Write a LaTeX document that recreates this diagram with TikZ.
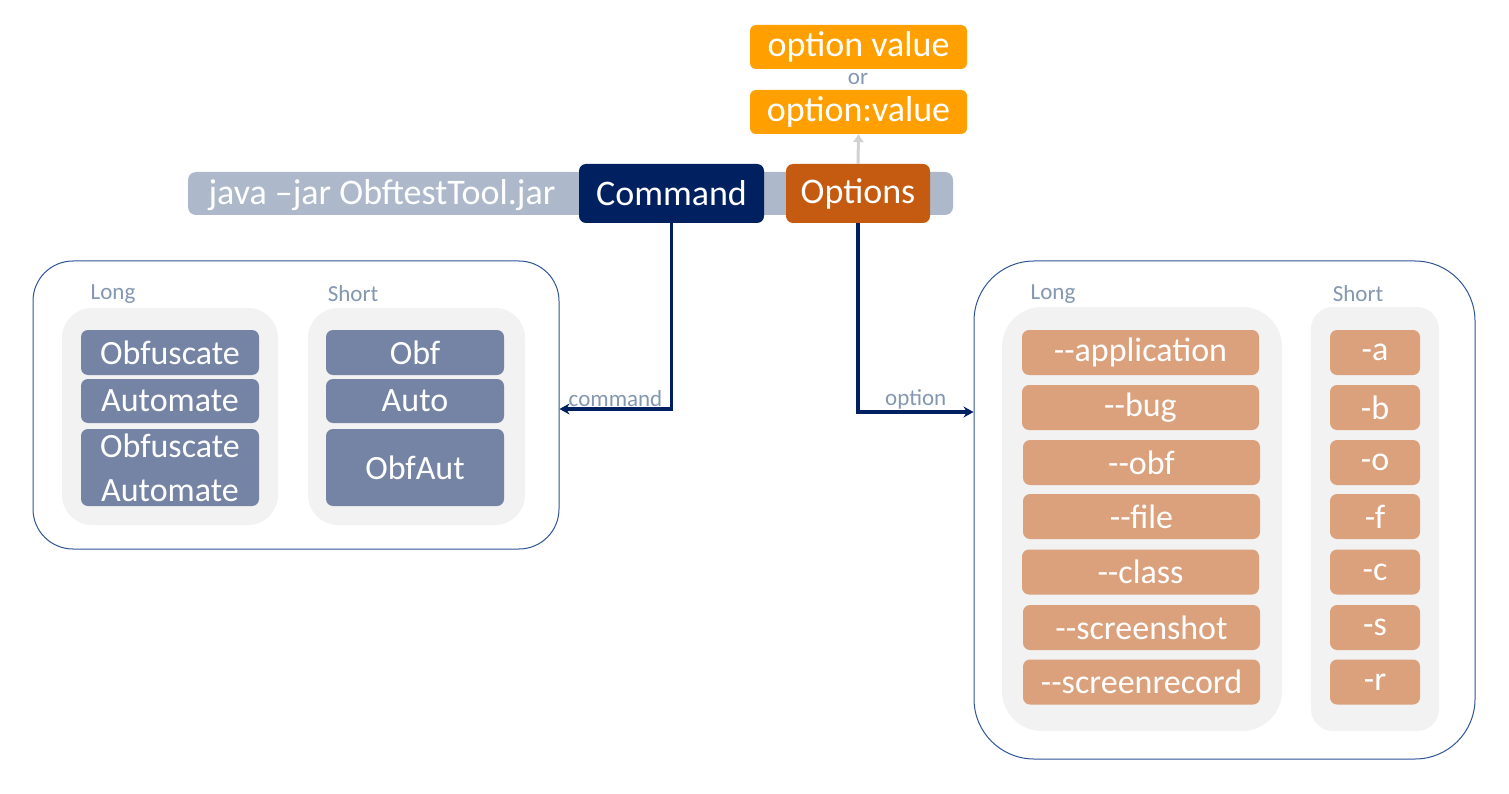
\documentclass[tikz,border=0pt]{standalone}
\usepackage{fontspec}
\setmainfont{Carlito}
\usepackage{tikz}
\usetikzlibrary{arrows.meta,positioning}
\definecolor{navy}{HTML}{002060}
\definecolor{rust}{HTML}{C55A11}
\definecolor{barblue}{HTML}{ADB9CA}
\definecolor{amber}{HTML}{FFA000}
\definecolor{slate}{HTML}{7584A5}
\definecolor{peach}{HTML}{DAA17C}
\definecolor{panelgray}{HTML}{F2F2F2}
\definecolor{frameblue}{HTML}{2F5597}
\definecolor{labelblue}{HTML}{8497B0}
\tikzset{
    bigtext/.style={text=white, font=\fontsize{36}{40}\selectfont},
    itemtext/.style={text=white, font=\fontsize{34}{44}\selectfont},
    lbl/.style={text=labelblue, font=\fontsize{23}{26}\selectfont, inner sep=1pt},
    keybox/.style={bigtext, rounded corners=7pt, inner sep=0pt, minimum height=59pt},
    valbox/.style={bigtext, fill=amber, rounded corners=6pt, inner sep=0pt, minimum width=217pt, minimum height=44pt},
    frame/.style={draw=frameblue, line width=1pt, fill=white, inner sep=0pt},
    panel/.style={fill=panelgray, inner sep=0pt},
    cmditem/.style={itemtext, fill=slate, rounded corners=7pt, inner sep=0pt, minimum width=178pt},
    optitem/.style={itemtext, fill=peach, rounded corners=7pt, inner sep=0pt, minimum height=45pt},
    conn/.style={draw=navy, line width=3.5pt, -{Stealth[length=10pt,width=11pt]}},
    uparrow/.style={draw=black!18, line width=3pt, -{Triangle[length=8pt,width=10pt]}}
}

\begin{document}
\begin{tikzpicture}[x=1pt,y=-1pt]
\useasboundingbox (0,0) rectangle (1509,794);

% option value forms
\node[valbox] (optval) at (858.5,47) {option value};
\node[lbl] (or) at (858,79) {or};
\node[valbox] (optcolon) at (858.5,112) {option:value};

% command line bar
\node[fill=barblue, rounded corners=8pt, minimum width=765pt, minimum height=43pt, inner sep=0pt] (bar) at (570.5,193.5) {};
\node[bigtext] (java) at (382,195) {java –jar ObftestTool.jar};
\node[keybox, fill=navy, minimum width=185pt] (cmd) at (671.5,193.5) {Command};
\node[keybox, fill=rust, minimum width=144pt] (opts) at (858,193.5) {Options};

% commands
\node[frame, rounded corners=40pt, minimum width=526pt, minimum height=288pt] (leftbox) at (296,405) {};
\node[panel, rounded corners=30pt, minimum width=216pt, minimum height=217pt] (lLong) at (170,416.5) {};
\node[panel, rounded corners=30pt, minimum width=217pt, minimum height=217pt] (lShort) at (416.5,416.5) {};
\node[lbl] (lLongLbl) at (113,294) {Long};
\node[lbl] (lShortLbl) at (353,294) {Short};
\node[cmditem, minimum height=45pt] (obfL) at (170,352.5) {Obfuscate};
\node[cmditem, minimum height=44pt] (autoL) at (170,401) {Automate};
\node[cmditem, minimum height=77pt, align=center] (obfautL) at (170,467.5) {Obfuscate\\Automate};
\node[cmditem, minimum height=45pt] (obfS) at (415,352.5) {Obf};
\node[cmditem, minimum height=44pt] (autoS) at (415,401) {Auto};
\node[cmditem, minimum height=77pt] (obfautS) at (415,467.5) {ObfAut};

% options
\node[frame, rounded corners=60pt, minimum width=501pt, minimum height=498pt] (rightbox) at (1224.5,510) {};
\node[panel, rounded corners=40pt, minimum width=280pt, minimum height=424pt] (rLong) at (1142,519) {};
\node[panel, rounded corners=22pt, minimum width=128pt, minimum height=424pt] (rShort) at (1375,519) {};
\node[lbl] (rLongLbl) at (1053,294) {Long};
\node[lbl] (rShortLbl) at (1358,294) {Short};

\node[optitem, minimum width=237pt] (app) at (1140.5,352.5) {-{}-application};
\node[optitem, minimum width=237pt] (bug) at (1140.5,407.5) {-{}-bug};
\node[optitem, minimum width=237pt] (obf) at (1141.5,462.5) {-{}-obf};
\node[optitem, minimum width=237pt] (file) at (1141.5,516.5) {-{}-file};
\node[optitem, minimum width=237pt] (class) at (1140.5,572) {-{}-class};
\node[optitem, minimum width=237pt] (shot) at (1141.5,627.5) {-{}-screenshot};
\node[optitem, minimum width=237pt] (rec) at (1141.5,682) {-{}-screenrecord};

\node[optitem, minimum width=90pt] (a) at (1375,352.5) {-a};
\node[optitem, minimum width=90pt] (b) at (1375,407.5) {-b};
\node[optitem, minimum width=90pt] (o) at (1375,462.5) {-o};
\node[optitem, minimum width=90pt] (f) at (1375,516.5) {-f};
\node[optitem, minimum width=90pt] (c) at (1375,572) {-c};
\node[optitem, minimum width=90pt] (s) at (1375,627.5) {-s};
\node[optitem, minimum width=90pt] (r) at (1375,682) {-r};

% connectors
\draw[uparrow] (opts.north) -- (optcolon.south);
\draw[conn] (cmd.south) |- (leftbox.east |- 0,409) node[lbl, pos=0.75, above] {command};
\draw[conn] (opts.south) |- (rightbox.west |- 0,412) node[lbl, pos=0.75, above] {option};
\end{tikzpicture}
\end{document}
